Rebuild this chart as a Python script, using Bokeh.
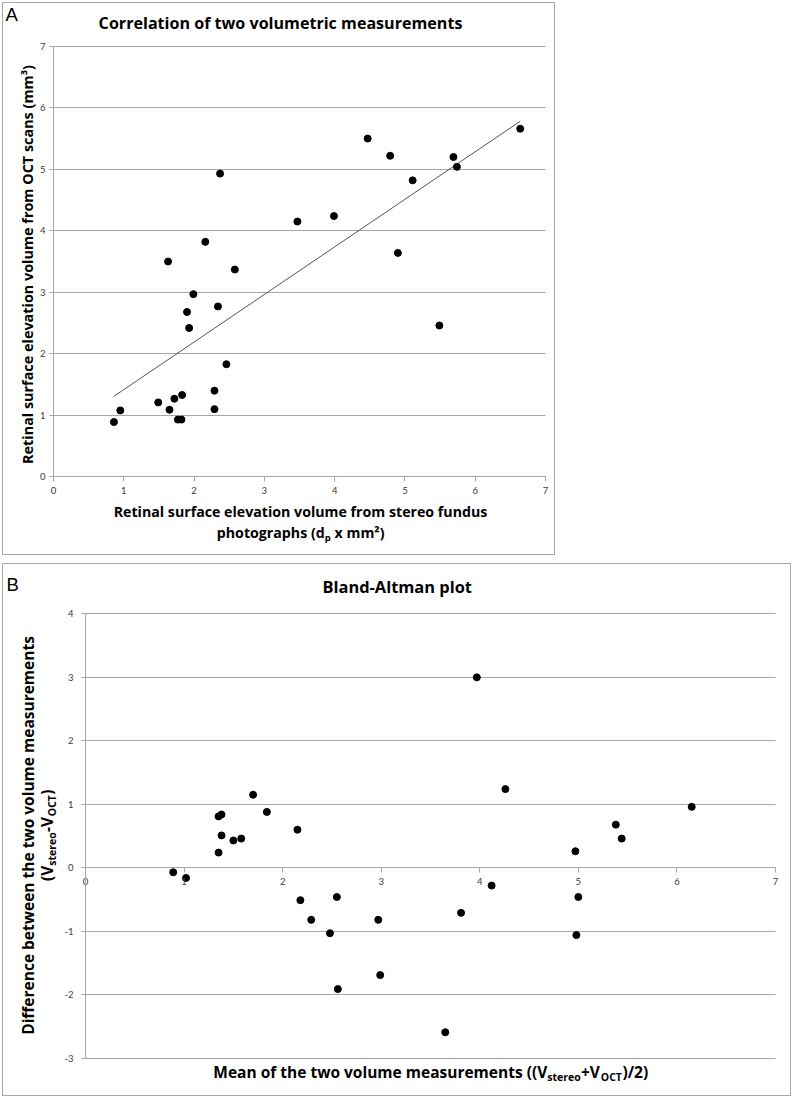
import math
import numpy as np
from bokeh.plotting import figure
from bokeh.models import Range1d, Label, FixedTicker, Spacer
from bokeh.layouts import column, row
from bokeh.embed import file_html
from bokeh.resources import INLINE

# ---------------- data ----------------
# Panel A: volume from stereo photographs (x) vs volume from OCT (y)
a_stereo = [0.86, 0.95, 1.49, 1.65, 1.72, 1.83, 1.77, 1.82, 2.29, 2.29,
            2.46, 1.90, 1.93, 2.34, 2.37, 2.16, 1.63, 2.58, 1.99, 3.47,
            3.99, 4.47, 4.79, 5.11, 5.69, 5.74, 6.64, 4.90, 5.49]
a_oct = [0.89, 1.08, 1.21, 1.09, 1.27, 1.33, 0.93, 0.93, 1.40, 1.10,
         1.83, 2.68, 2.42, 2.77, 4.93, 3.82, 3.50, 3.37, 2.97, 4.15,
         4.24, 5.50, 5.22, 4.82, 5.20, 5.04, 5.66, 3.64, 2.46]
a_ticks = [0, 1, 2, 3, 4, 5, 6, 7]

# Panel B: Bland-Altman (mean vs difference)
b_mean = [1.70, 1.84, 2.15, 1.35, 1.38, 1.38, 1.50, 1.58, 1.35, 0.89,
          1.02, 2.18, 2.29, 2.48, 2.55, 2.56, 2.97, 2.99, 3.97, 4.26,
          6.15, 5.38, 5.44, 4.97, 4.12, 5.00, 3.81, 4.98, 3.65]
b_diff = [1.15, 0.88, 0.60, 0.81, 0.84, 0.51, 0.43, 0.46, 0.24, -0.07,
          -0.16, -0.51, -0.82, -1.03, -0.46, -1.91, -0.82, -1.69, 3.00, 1.24,
          0.96, 0.68, 0.46, 0.26, -0.28, -0.46, -0.71, -1.06, -2.59]
b_x_ticks = [0, 1, 2, 3, 4, 5, 6, 7]
b_y_ticks = [-3, -2, -1, 0, 1, 2, 3, 4]
b_y_tick_labels = ["-3", "-2", "-1", "0", "1", "2", "3", "4"]

# ---------------- styling ----------------
GRID = "#a6a6a6"
TICKTXT = "#3a3a3a"
FONT = "Open Sans"
TICKFONT = "Lato"
CORR = 0.36          # baseline correction (fraction of font size)
K = 1.04             # width calibration of the table below
OSB = {' ': .26, '(': .345, ')': .345, '-': .322, '+': .572, '/': .424, '2': .572,
       '²': .40, '³': .40, 'a': .590, 'b': .616, 'c': .493, 'd': .616, 'e': .573,
       'f': .397, 'g': .551, 'h': .639, 'i': .301, 'l': .301, 'm': .945, 'n': .639,
       'o': .604, 'p': .616, 'r': .445, 's': .487, 't': .410, 'u': .639, 'v': .569,
       'w': .833, 'x': .578, 'A': .701, 'B': .667, 'C': .629, 'D': .720, 'M': .877,
       'O': .770, 'R': .659, 'T': .579, 'V': .657}


def tw(s, size):
    return K * sum(OSB.get(c, 0.58) for c in s) * size


def style(p, xt, yt, ylabels=None, ystand=4):
    p.background_fill_color = "white"
    p.border_fill_color = "white"
    p.outline_line_color = None
    p.xgrid.visible = False
    p.ygrid.ticker = FixedTicker(ticks=yt)
    p.ygrid.bounds = (min(yt), max(yt))
    p.ygrid.cross_bounds = (min(xt), max(xt))
    p.ygrid.grid_line_color = GRID
    p.xaxis.ticker = FixedTicker(ticks=xt)
    p.yaxis.ticker = FixedTicker(ticks=yt)
    p.xaxis.bounds = (min(xt), max(xt))
    p.yaxis.bounds = (min(yt), max(yt))
    p.xaxis.fixed_location = 0
    p.yaxis.fixed_location = min(xt)
    if ylabels is not None:
        p.yaxis.major_label_overrides = {t: l for t, l in zip(yt, ylabels)}
    for ax in p.axis:
        ax.axis_line_color = GRID
        ax.major_tick_line_color = GRID
        ax.major_tick_in = 0
        ax.major_tick_out = 4
        ax.minor_tick_line_color = None
        ax.major_label_text_font = TICKFONT
        ax.major_label_text_font_size = "9.5px"
        ax.major_label_text_color = TICKTXT
    p.xaxis.major_tick_out = 5
    p.xaxis.major_label_standoff = 5
    p.yaxis.major_label_standoff = ystand


def lab(p, x, y, text, size, bold=True, font=FONT, angle=0.0, align="left"):
    p.add_layout(Label(x=x, y=y, text=text, text_font=font,
                       text_font_size=f"{size}px",
                       text_font_style="bold" if bold else "normal",
                       text_color="black", angle=angle,
                       text_align=align, text_baseline="alphabetic"))


def hlab(p, cx, cy, xpx, base, text, size, **kw):
    """horizontal label; base = wanted baseline (page px)."""
    lab(p, cx(xpx), cy(base - CORR * size), text, size, **kw)


def vlab(p, cx, cy, base, ypx, text, size, **kw):
    """text rotated to read upwards; base = wanted baseline x (page px)."""
    lab(p, cx(base - CORR * size), cy(ypx), text, size, angle=math.pi / 2, **kw)


def hline_pieces(p, cx, cy, x_start, base, pieces, size, subsize, drop):
    first = pieces[0][0]
    x = x_start + tw(first, size)
    hlab(p, cx, cy, x, base, first, size, align="right")
    for txt, sub in pieces[1:]:
        sz = subsize if sub else size
        stripped = txt.lstrip(" ")
        x += tw(txt[:len(txt) - len(stripped)], sz)
        hlab(p, cx, cy, x, base + (drop if sub else 0), stripped, sz)
        x += tw(stripped, sz)


def vline_pieces(p, cx, cy, y_start, base, pieces, size, subsize, drop):
    first = pieces[0][0]
    y = y_start - tw(first, size)
    vlab(p, cx, cy, base, y, first, size, align="right")
    for txt, sub in pieces[1:]:
        sz = subsize if sub else size
        vlab(p, cx, cy, base + (drop if sub else 0), y, txt, sz)
        y -= tw(txt, sz)


def total(pieces, size, subsize):
    return sum(tw(t, subsize if s else size) for t, s in pieces)


# ---------------- Panel A ----------------
XA, YA = 492 / 7, 430.5 / 7   # px per unit; x=0 at page 53, y=0 at page 476.3


def axx(r):
    return (r - 53) / XA


def ayy(r):
    return (476.3 - r) / YA


pa = figure(width=551, height=551, x_range=Range1d(axx(3), axx(554)),
            y_range=Range1d(ayy(554), ayy(3)), title=None,
            output_backend="svg", toolbar_location=None, min_border=0,
            min_border_left=0, min_border_right=0, min_border_top=0, min_border_bottom=0)
style(pa, a_ticks, a_ticks, ystand=4)

slope, icpt = np.polyfit(a_stereo, a_oct, 1)
xl = np.array([min(a_stereo), max(a_stereo)])
pa.line(xl, slope * xl + icpt, line_color="#404040", line_width=0.9)
pa.scatter(a_stereo, a_oct, size=7, fill_color="black", line_color="black")

hlab(pa, axx, ayy, 5, 21, "A", 18.5, bold=False, font="Liberation Sans")
hlab(pa, axx, ayy, 280, 28, "Correlation of two volumetric measurements", 16.1,
     align="center")
vlab(pa, axx, ayy, 31.7, 264, "Retinal surface elevation volume from OCT scans (mm³)",
     14.4, align="center")
hlab(pa, axx, ayy, 300, 516, "Retinal surface elevation volume from stereo fundus",
     14.2, align="center")
a_x2 = [("photographs (d", False), ("p", True), (" x mm²)", False)]
hline_pieces(pa, axx, ayy, 300 - total(a_x2, 14.2, 9.5) / 2, 537, a_x2, 14.2, 9.5, 3)

# ---------------- Panel B ----------------
XB, YB = 690 / 7, 444.4 / 7   # x=0 at page 85, y=0 at page 867.3


def bxx(r):
    return (r - 85) / XB


def byy(r):
    return (867.3 - r) / YB


pb = figure(width=787, height=531, x_range=Range1d(bxx(3), bxx(790)),
            y_range=Range1d(byy(1095), byy(564)), title=None,
            output_backend="svg", toolbar_location=None, min_border=0,
            min_border_left=0, min_border_right=0, min_border_top=0, min_border_bottom=0)
style(pb, b_x_ticks, b_y_ticks, ylabels=b_y_tick_labels, ystand=8)

pb.scatter(b_mean, b_diff, size=7, fill_color="black", line_color="black")

hlab(pb, bxx, byy, 6, 591, "B", 18.5, bold=False, font="Liberation Sans")
hlab(pb, bxx, byy, 396.7, 592, "Bland-Altman plot", 16.4, align="center")
vlab(pb, bxx, byy, 33.3, 835, "Difference between the two volume measurements", 15.5,
     align="center")
b_y2 = [("(V", False), ("stereo", True), ("-V", False), ("OCT", True), (")", False)]
vline_pieces(pb, bxx, byy, 835 + total(b_y2, 15.5, 10.5) / 2, 51.7, b_y2, 15.5, 10.5, 3.5)
b_x = [("Mean of the two volume measurements ((V", False), ("stereo", True),
       ("+V", False), ("OCT", True), (")/2)", False)]
hline_pieces(pb, bxx, byy, 208.3, 1076.7, b_x, 15.5, 10.5, 3.5)

wa = column(pa, styles={"border": "1px solid #a8a8a8"})
wb = column(pb, styles={"border": "1px solid #a8a8a8"})
layout = column(Spacer(height=2), row(Spacer(width=2), wa), Spacer(height=8),
                row(Spacer(width=2), wb))
open("out.html", "w").write(file_html(layout, INLINE))
